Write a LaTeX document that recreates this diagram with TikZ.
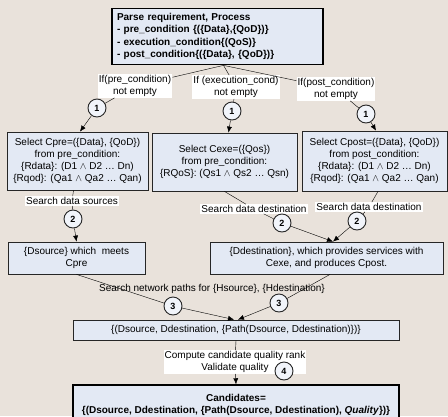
\documentclass[tikz,border=0pt]{standalone}
\usepackage{fontspec}
\setmainfont{Liberation Sans}
\usetikzlibrary{positioning, arrows.meta}

\definecolor{bgcol}{RGB}{233,226,219}
\definecolor{boxcol}{RGB}{227,233,244}

\begin{document}
\begin{tikzpicture}[x=1pt, y=-1pt, >={Latex[length=6pt,width=5pt]},
    font=\fontsize{10}{12}\selectfont,
    box/.style={draw=black!85, fill=boxcol, align=center, inner sep=2pt, line width=0.8pt},
    mainbox/.style={box, draw=black, line width=1.5pt, font=\bfseries\fontsize{10}{12.3}\selectfont},
    stepno/.style={circle, draw=black!85, fill=boxcol!50!white, line width=0.9pt,
        minimum size=18pt, inner sep=0pt, font=\bfseries\fontsize{9}{9}\selectfont},
    cond/.style={fill=white, align=center, inner sep=1pt}]
    \useasboundingbox (0,0) rectangle (448,416);
    \clip (0,0) rectangle (448,416);
    \fill [bgcol] (0,0) rectangle (448,416);

    % boxes
    \node [mainbox, align=left, text width=201pt, inner sep=5pt, minimum height=55pt] (parse) at (217.5,36.5)
        {Parse requirement, Process\\
         - pre\_condition \{(\{Data\},\{QoD\})\}\\
         - execution\_condition\{(QoS)\}\\
         - post\_condition\{(\{Data\}, \{QoD\})\}};
    \node [box, minimum width=141pt, minimum height=58pt] (cpre) at (77.5,161)
        {Select Cpre=(\{Data\}, \{QoD\})\\ from pre\_condition:\\
         \{Rdata\}: (D1 $\wedge$ D2 … Dn)\\ \{Rqod\}: (Qa1 $\wedge$ Qa2 … Qan)};
    \node [box, minimum width=145pt, minimum height=58pt] (cexe) at (224.5,162)
        {Select Cexe=(\{Qos\})\\ from pre\_condition:\\
         \{RQoS\}: (Qs1 $\wedge$ Qs2 … Qsn)};
    \node [box, minimum width=145pt, minimum height=60pt] (cpost) at (374.5,161)
        {Select Cpost=(\{Data\}, \{QoD\})\\ from post\_condition:\\
         \{Rdata\}: (D1 $\wedge$ D2 … Dn)\\ \{Rqod\}: (Qa1 $\wedge$ Qa2 … Qan)};
    \node [box, minimum width=137pt, minimum height=32pt] (dsrc) at (76.5,258)
        {\{Dsource\} which~~meets\\ Cpre};
    \node [box, minimum width=233pt, minimum height=32pt] (ddst) at (326.5,258)
        {\{Ddestination\}, which provides services with\\ Cexe, and produces Cpost.};
    \node [box, minimum width=326pt, minimum height=20pt] (paths) at (236,330)
        {\{(Dsource, Ddestination, \{Path(Dsource, Ddestination)\})\}};
    \node [mainbox, align=center, minimum width=326pt, minimum height=40pt] (cands) at (236,405)
        {Candidates=\\ \{(Dsource, Ddestination, \{Path(Dsource, Ddestination), \textit{Quality}\})\}};

    % conditions and steps
    \node [cond] (if_pre) at (135,86) {If(pre\_condition)\\not empty};
    \node [cond] (if_exe) at (236,87) {If (execution\_cond)\\not empty};
    \node [cond] (if_post) at (336,89) {If(post\_condition)\\not empty};
    \node [stepno] (s1a) at (97,108) {1};
    \node [stepno] (s1b) at (232,111) {1};
    \node [stepno] (s1c) at (366,114) {1};

    \node [cond] (src_lbl) at (72,201) {Search data sources};
    \node [cond] (dst_lbl1) at (254,209) {Search data destination};
    \node [cond] (dst_lbl2) at (369,207) {Search data destination};
    \node [stepno] (s2a) at (73,219) {2};
    \node [stepno] (s2b) at (282,223) {2};
    \node [stepno] (s2c) at (357,221) {2};

    \node (net_lbl) at (212,289) {Search network paths for \{Hsource\}, \{Hdestination\}};
    \node [stepno] (s3a) at (173,306) {3};
    \node [stepno] (s3b) at (279,303) {3};

    \node [cond] (rank_lbl) at (235,362) {Compute candidate quality rank\\Validate quality};
    \node [stepno] (s4) at (284,371) {4};

    % connectors
    \draw [->] ([xshift=6pt]parse.south) -- (if_pre) -- (s1a) -- ([xshift=2.5pt]cpre.north);
    \draw [->] ([xshift=6pt]parse.south) -- (if_exe) -- (s1b) -- ([xshift=4pt]cexe.north);
    \draw [->] ([xshift=6pt]parse.south) -- (if_post) -- (s1c) -- ([xshift=1.5pt]cpost.north);
    \draw [->] ([xshift=-4pt]cpre.south) -- (src_lbl) -- (s2a) -- (dsrc.north);
    \draw [->] (cexe.south) -- (dst_lbl1) -- (s2b) -- ([xshift=6.5pt]ddst.north);
    \draw [->] ([xshift=3.5pt]cpost.south) -- (dst_lbl2) -- (s2c) -- ([xshift=6.5pt]ddst.north);
    \draw [->] (dsrc.south) -- (s3a) -- ([xshift=-2pt]paths.north);
    \draw [->] ([xshift=3.5pt]ddst.south) -- (s3b) -- ([xshift=2pt]paths.north);
    \draw [->] (paths.south) -- (rank_lbl) -- (cands.north);
\end{tikzpicture}
\end{document}
